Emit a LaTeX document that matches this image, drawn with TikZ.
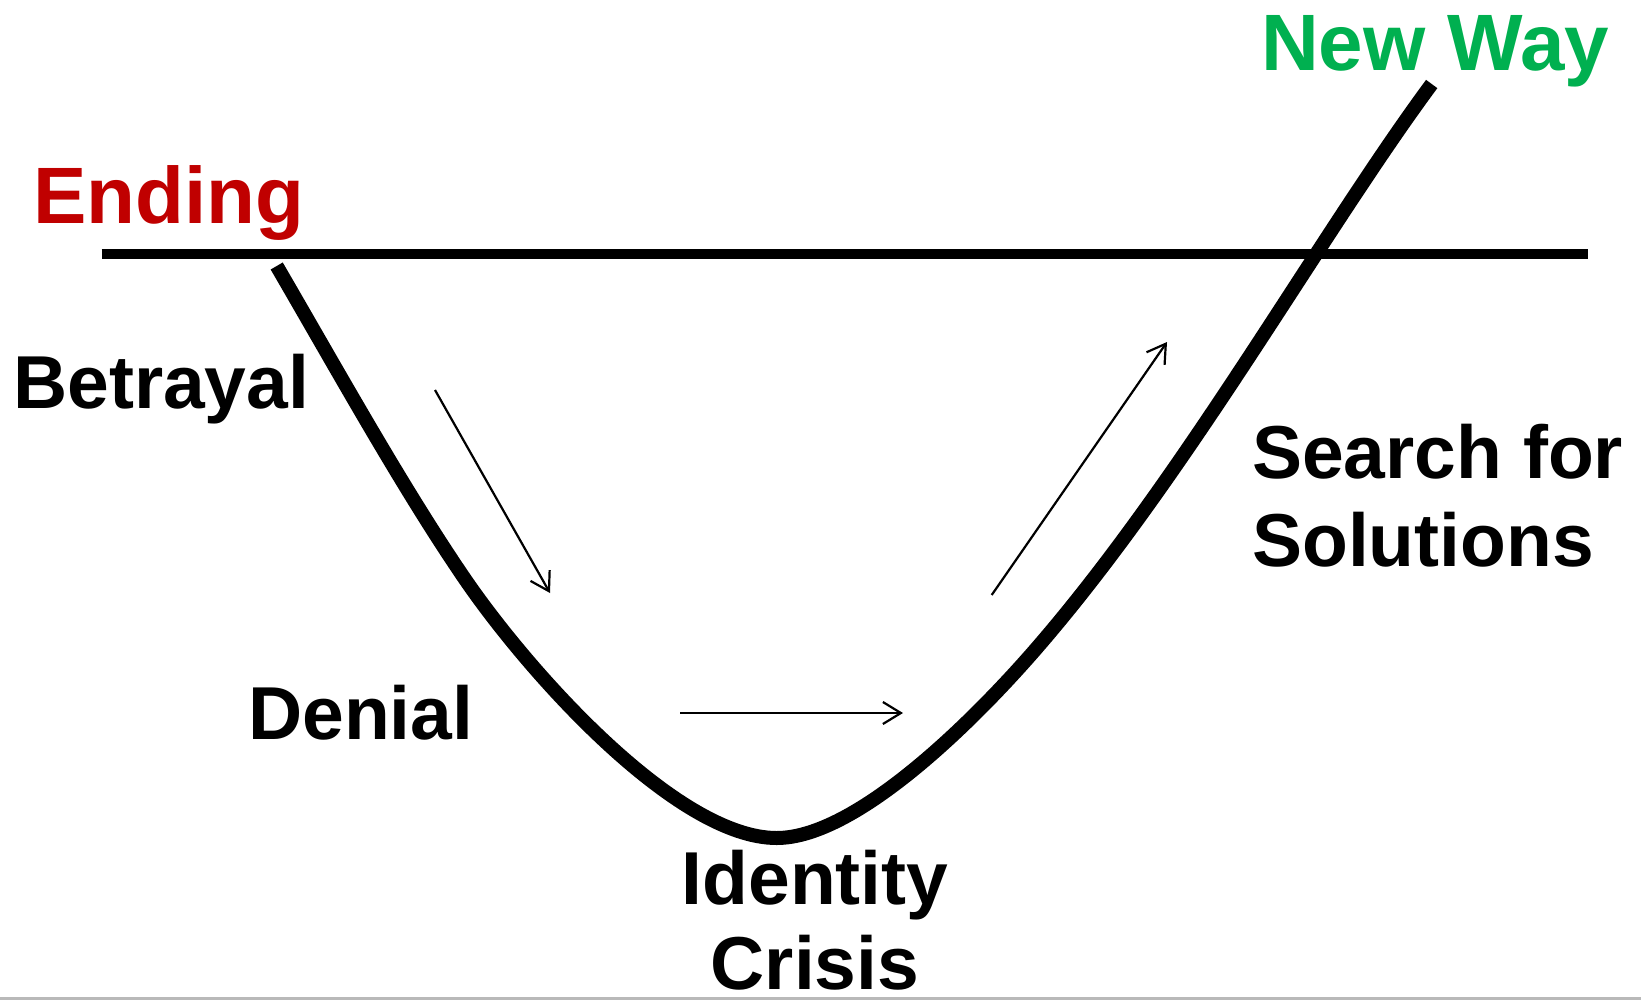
\documentclass[tikz,border=0pt]{standalone}
\usepackage{fontspec}
\setmainfont{Liberation Sans}
\usetikzlibrary{arrows.meta}
\definecolor{endred}{HTML}{C00000}
\definecolor{newgreen}{HTML}{00B050}

\begin{document}
\begin{tikzpicture}[x=1pt,y=-1pt]
		\tikzstyle{phase}=[inner sep=0pt, font=\bfseries\fontsize{75}{88}\selectfont]
		\tikzstyle{goal}=[inner sep=0pt, font=\bfseries\fontsize{80}{90}\selectfont]
		\tikzstyle{flow}=[-{Straight Barb[length=18pt,width=22pt]}, line width=2.2pt]

		\useasboundingbox (0,0) rectangle (1641,999);

		\node[goal, text=endred, anchor=base west](ending) at (33,223){Ending};
		\node[goal, text=newgreen, anchor=base west](newway) at (1261,70){New Way};

		\node[phase, anchor=base west](betrayal) at (13,408){Betrayal};
		\node[phase, anchor=base west](denial) at (248,739){Denial};
		\node[phase, anchor=base, align=center, font=\bfseries\fontsize{75}{85}\selectfont](crisis) at (815,989){Identity\\Crisis};
		\node[phase, anchor=base west, align=left](search) at (1252,566){Search for\\Solutions};

		\coordinate (l0) at (101.5,254);
		\coordinate (l1) at (1588,254);
		\draw[line width=10pt] (l0) -- (l1);

		\coordinate (u0) at (276.7,266);
		\coordinate (u1) at (463.3,576.7);
		\coordinate (u2) at (776.7,838);
		\coordinate (u3) at (1035,650);
		\coordinate (u4) at (1431.7,84);
		\draw[line width=14pt] (u0) .. controls (338.7,372.6) and (401.3,485.6) .. (u1)
		  .. controls (528.3,672.3) and (676.7,838) .. (u2)
		  .. controls (856.7,838) and (975,719) .. (u3)
		  .. controls (1185,477.5) and (1321.7,232.5) .. (u4);

		\coordinate (a0) at (435,390);
		\coordinate (a1) at (550,593);
		\coordinate (b0) at (680,713);
		\coordinate (b1) at (903,713);
		\coordinate (c0) at (991.7,595);
		\coordinate (c1) at (1167,342);
		\draw[flow] (a0) -- (a1);
		\draw[flow] (b0) -- (b1);
		\draw[flow] (c0) -- (c1);

		\coordinate (g0) at (0,998);
		\coordinate (g1) at (1641,998);
		\draw[gray!55, line width=3pt] (g0) -- (g1);

\end{tikzpicture}
\end{document}
